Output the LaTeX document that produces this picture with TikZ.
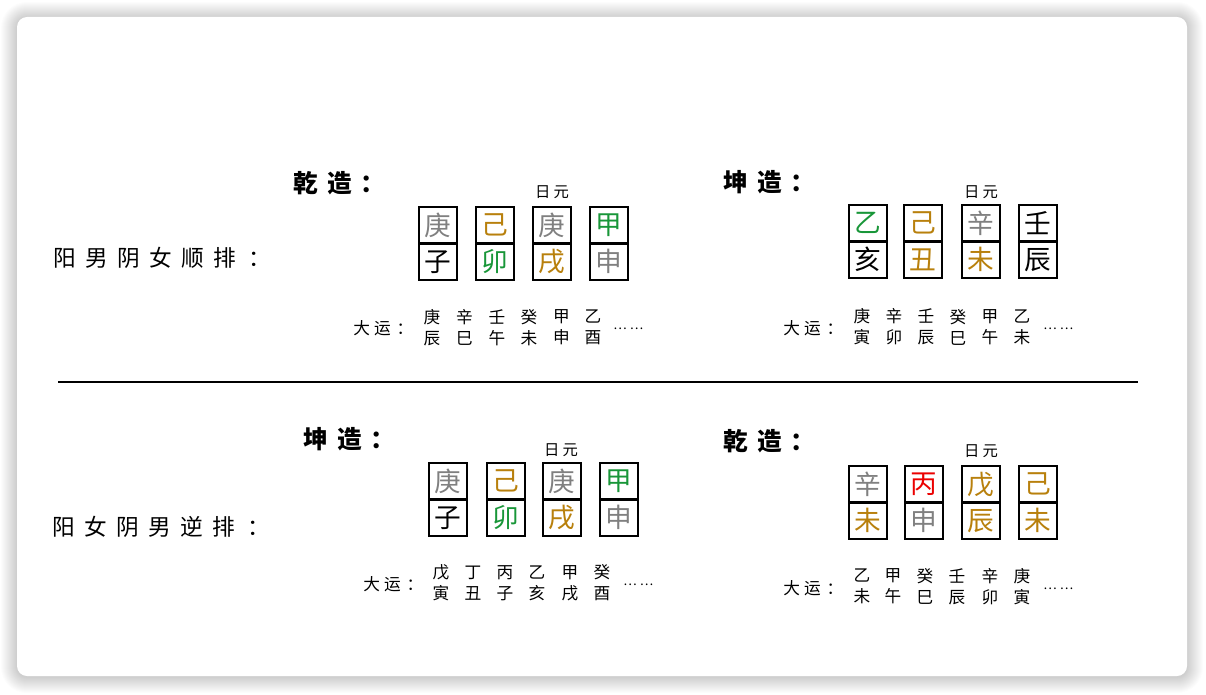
\documentclass[tikz,border=0pt]{standalone}
\usepackage{fontspec}
\setmainfont{Noto Sans CJK SC}
\definecolor{metal}{RGB}{128,128,128}
\definecolor{earth}{RGB}{184,128,12}
\definecolor{wood}{RGB}{24,150,56}
\definecolor{fire}{RGB}{235,0,0}
\newcommand\bzpillar[7]{%
  \node[cell, text=#4] (#1s) at (#2,{#3+18.25}) {#5};
  \node[cell, text=#6] (#1b) at (#2,{#3+54.75}) {#7};}
\newcommand\bzdy[4]{\node[dy] (#1) at (#2,#3) {#4};}
\newcommand\bzdots{…\hspace{0.25em}…}
\begin{document}
\begin{tikzpicture}[x=0.75pt,y=-0.75pt,
  cell/.style={draw, line width=1.5pt, minimum width=28.5pt, minimum height=27.4pt, inner sep=0pt, font=\fontsize{20}{20}\selectfont},
  heading/.style={anchor=west, inner sep=0pt, font=\fontsize{18.5}{20}\selectfont\bfseries},
  side/.style={anchor=west, inner sep=0pt, font=\fontsize{17}{20}\selectfont},
  riyuan/.style={inner sep=0pt, font=\fontsize{11.5}{12}\selectfont},
  dy/.style={inner sep=0pt, align=center, font=\fontsize{12.5}{15.75}\selectfont},
  dylabel/.style={anchor=west, inner sep=0pt, font=\fontsize{12.5}{14}\selectfont},
  dots/.style={anchor=base west, inner sep=0pt, font=\fontsize{9.5}{12}\selectfont},
  sep/.style={line width=1.2pt}]
\useasboundingbox (0,0) rectangle (1206,695);
\fill[white] (0,0) rectangle (1206,695);
% shadow
\foreach \i in {1,...,16}{
  \fill[black, opacity=0.011, rounded corners={(7.5+0.75*\i)*1pt}] ({17-\i},{17-\i+1}) rectangle ({1187+\i},{676+\i+1});
}
\fill[white, rounded corners=7.5pt] (17,17) rectangle (1187,676);

% separator
\coordinate (L1) at (58,382);
\coordinate (L2) at (1138,382);
\draw[sep] (L1) -- (L2);

% side labels
\node[side] (sTop) at (53,258) {阳\hspace{0.41em}男\hspace{0.41em}阴\hspace{0.41em}女\hspace{0.41em}顺\hspace{0.41em}排\hspace{0.55em}：};
\node[side] (sBot) at (52,527) {阳\hspace{0.41em}女\hspace{0.41em}阴\hspace{0.41em}男\hspace{0.41em}逆\hspace{0.41em}排\hspace{0.55em}：};

% ---------- top left ----------
\node[heading] (hTL) at (293,183) {乾\hspace{0.38em}造\hspace{0.36em}：};
\node[riyuan] (rTL) at (552,192) {日\hspace{0.2em}元};
\bzpillar{TLa}{438}{207}{metal}{庚}{black}{子}
\bzpillar{TLb}{495}{207}{earth}{己}{wood}{卯}
\bzpillar{TLc}{552}{207}{metal}{庚}{earth}{戌}
\bzpillar{TLd}{608.5}{207}{wood}{甲}{metal}{申}
\node[dylabel] (dTL) at (353,328) {大\hspace{0.25em}运\hspace{0.35em}：};
\bzdy{TL1}{432}{327.5}{庚\\辰}
\bzdy{TL2}{464.5}{327.5}{辛\\巳}
\bzdy{TL3}{497}{327.5}{壬\\午}
\bzdy{TL4}{529}{327.5}{癸\\未}
\bzdy{TL5}{561.5}{327.5}{甲\\申}
\bzdy{TL6}{593}{327.5}{乙\\酉}
\node[dots] (eTL) at (613,329.5) {\bzdots};

% ---------- top right ----------
\node[heading] (hTR) at (723,182) {坤\hspace{0.38em}造\hspace{0.36em}：};
\node[riyuan] (rTR) at (981,192) {日\hspace{0.2em}元};
\bzpillar{TRa}{867.5}{205}{wood}{乙}{black}{亥}
\bzpillar{TRb}{923}{205}{earth}{己}{earth}{丑}
\bzpillar{TRc}{981}{205}{metal}{辛}{earth}{未}
\bzpillar{TRd}{1038}{205}{black}{壬}{black}{辰}
\node[dylabel] (dTR) at (783,328) {大\hspace{0.25em}运\hspace{0.35em}：};
\bzdy{TR1}{862}{327}{庚\\寅}
\bzdy{TR2}{894}{327}{辛\\卯}
\bzdy{TR3}{926}{327}{壬\\辰}
\bzdy{TR4}{958}{327}{癸\\巳}
\bzdy{TR5}{990}{327}{甲\\午}
\bzdy{TR6}{1022}{327}{乙\\未}
\node[dots] (eTR) at (1043,329) {\bzdots};

% ---------- bottom left ----------
\node[heading] (hBL) at (303,439) {坤\hspace{0.38em}造\hspace{0.36em}：};
\node[riyuan] (rBL) at (561,450) {日\hspace{0.2em}元};
\bzpillar{BLa}{448}{463}{metal}{庚}{black}{子}
\bzpillar{BLb}{505.5}{463}{earth}{己}{wood}{卯}
\bzpillar{BLc}{562}{463}{metal}{庚}{earth}{戌}
\bzpillar{BLd}{618.5}{463}{wood}{甲}{metal}{申}
\node[dylabel] (dBL) at (363,584) {大\hspace{0.25em}运\hspace{0.35em}：};
\bzdy{BL1}{441}{583}{戊\\寅}
\bzdy{BL2}{473}{583}{丁\\丑}
\bzdy{BL3}{505}{583}{丙\\子}
\bzdy{BL4}{537}{583}{乙\\亥}
\bzdy{BL5}{570}{583}{甲\\戌}
\bzdy{BL6}{602}{583}{癸\\酉}
\node[dots] (eBL) at (623,585) {\bzdots};

% ---------- bottom right ----------
\node[heading] (hBR) at (723,441) {乾\hspace{0.38em}造\hspace{0.36em}：};
\node[riyuan] (rBR) at (981,451) {日\hspace{0.2em}元};
\bzpillar{BRa}{867.5}{466}{metal}{辛}{earth}{未}
\bzpillar{BRb}{923.5}{466}{fire}{丙}{metal}{申}
\bzpillar{BRc}{981}{466}{earth}{戊}{earth}{辰}
\bzpillar{BRd}{1038}{466}{earth}{己}{earth}{未}
\node[dylabel] (dBR) at (783,588) {大\hspace{0.25em}运\hspace{0.35em}：};
\bzdy{BR1}{862}{586.5}{乙\\未}
\bzdy{BR2}{893}{586.5}{甲\\午}
\bzdy{BR3}{925}{586.5}{癸\\巳}
\bzdy{BR4}{957}{586.5}{壬\\辰}
\bzdy{BR5}{990}{586.5}{辛\\卯}
\bzdy{BR6}{1022}{586.5}{庚\\寅}
\node[dots] (eBR) at (1043,589) {\bzdots};
\end{tikzpicture}
\end{document}
